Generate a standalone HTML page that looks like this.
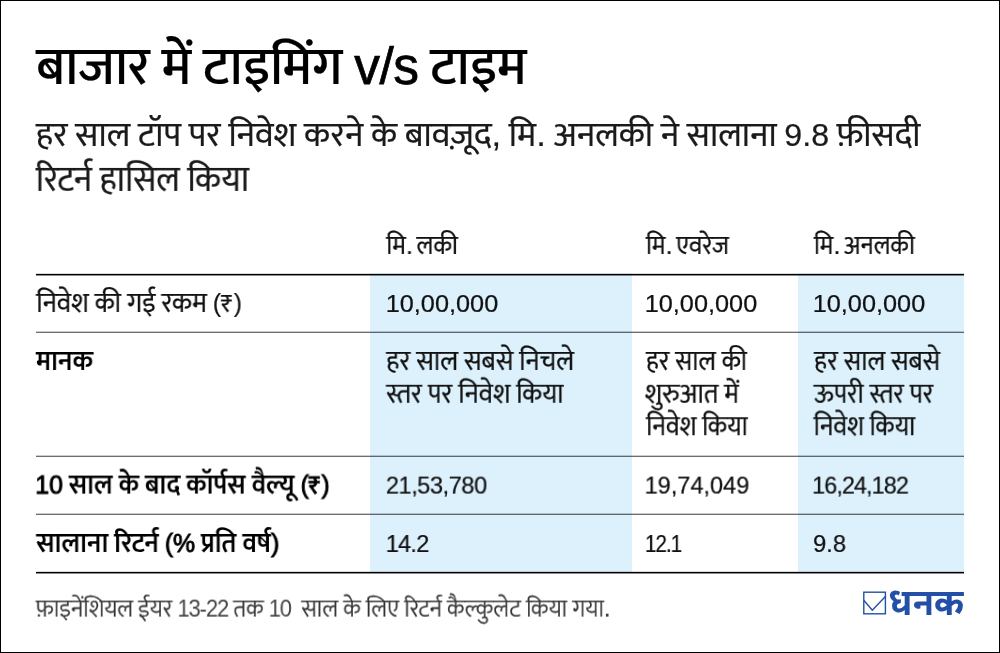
<!DOCTYPE html>
<html lang="hi"><head><meta charset="utf-8"><title>बाजार में टाइमिंग v/s टाइम</title>
<style>
html,body{margin:0;padding:0;background:#fff}
body{width:1000px;height:653px;overflow:hidden;position:relative;font-family:"Liberation Sans","Mukta","Ek Mukta","Noto Sans Devanagari",sans-serif}
#page{position:absolute;left:0;top:0;width:1000px;height:653px;overflow:hidden;background:#fff}
#bg{position:absolute;left:0;top:0;width:1000px;height:653px}
.t{position:absolute;left:0;top:0;white-space:nowrap;will-change:transform;line-height:1.5;word-spacing:-.056em;transform-origin:0 0;margin:0;padding:0;-webkit-text-stroke:.22px currentColor}
.n{font-family:"Liberation Sans","Mukta","Ek Mukta",sans-serif;font-size:.93em}
.vs{font-family:"Liberation Sans",sans-serif;font-size:.97em;letter-spacing:-.5px;-webkit-text-stroke:.75px #000}

.nm{font-weight:400;-webkit-text-stroke:.95px currentColor}
.nf{letter-spacing:-1.15px;-webkit-text-stroke:0;color:#444}
.num{font-family:"Liberation Sans",sans-serif}
</style></head><body>
<div id="page">
<svg id="bg" width="1000" height="653" viewBox="0 0 1000 653">
<rect x="370" y="273.5" width="262" height="299" fill="#ddf1fc"/>
<rect x="798" y="273.5" width="166" height="299" fill="#ddf1fc"/>
<rect x="36" y="273.85" width="928" height="1.6" fill="#000"/>
<rect x="36" y="331.8" width="928" height="0.77" fill="#000"/>
<rect x="36" y="455.8" width="928" height="0.77" fill="#000"/>
<rect x="36" y="513.8" width="928" height="0.77" fill="#000"/>
<rect x="36" y="571.85" width="928" height="1.6" fill="#000"/>
<g fill="none" stroke="#2350a6" stroke-width="1.4"><rect x="863.8" y="592.2" width="21.6" height="21.6"/><polyline points="863.8,600.3 872.3,610.3 885.4,596.6"/></g>
<rect x="0.5" y="0.5" width="999" height="652" fill="none" stroke="#000" stroke-width="1"/>
</svg>
<div class="t" id="title" style="font-size:53px;font-weight:500;color:#000;transform:translate(36.28px,25.80px) scaleX(1.0000)">बाजार में टाइमिंग <span class="vs">v/s</span> टाइम</div>
<div class="t" id="sub1" style="font-size:34px;font-weight:400;color:#1a1a1a;transform:translate(35.94px,109.00px) scaleX(1.0183)">हर साल टॉप पर निवेश करने के बावज़ूद, मि. अनलकी ने सालाना <span class="n">9.8</span> फ़ीसदी</div>
<div class="t" id="sub2" style="font-size:36.5px;font-weight:400;color:#1a1a1a;transform:translate(35.86px,151.90px) scaleX(0.9459)">रिटर्न हासिल किया</div>
<div class="t" id="h2" style="font-size:26.7px;font-weight:400;color:#111;transform:translate(386.31px,225.00px) scaleX(0.9281);word-spacing:-.13em">मि. लकी</div>
<div class="t" id="h3" style="font-size:26.7px;font-weight:400;color:#111;transform:translate(645.93px,225.00px) scaleX(0.9286);word-spacing:-.13em">मि. एवरेज</div>
<div class="t" id="h4" style="font-size:26.7px;font-weight:400;color:#111;transform:translate(813.91px,225.00px) scaleX(0.9232);word-spacing:-.13em">मि. अनलकी</div>
<div class="t" id="r1" style="font-size:28.4px;font-weight:400;color:#111;transform:translate(36.32px,281.00px) scaleX(0.9411)">निवेश की गई रकम <span class="n">(₹)</span></div>
<div class="t num" id="r1c2" style="font-size:24px;font-weight:400;color:#111;transform:translate(385.69px,286.00px) scaleX(1.0540)">10,00,000</div>
<div class="t num" id="r1c3" style="font-size:24px;font-weight:400;color:#111;transform:translate(644.69px,286.00px) scaleX(1.0540)">10,00,000</div>
<div class="t num" id="r1c4" style="font-size:24px;font-weight:400;color:#111;transform:translate(812.69px,286.00px) scaleX(1.0540)">10,00,000</div>
<div class="t" id="r2" style="font-size:28.4px;font-weight:600;color:#000;transform:translate(35.99px,339.00px) scaleX(0.9429);-webkit-text-stroke:0">मानक</div>
<div class="t" id="r2c2a" style="font-size:28.4px;font-weight:400;color:#111;transform:translate(386.33px,339.00px) scaleX(0.9278)">हर साल सबसे निचले</div>
<div class="t" id="r2c2b" style="font-size:28.4px;font-weight:400;color:#111;transform:translate(386.31px,371.80px) scaleX(0.9350)">स्तर पर निवेश किया</div>
<div class="t" id="r2c3a" style="font-size:28.4px;font-weight:400;color:#111;transform:translate(646.07px,339.00px) scaleX(0.9022)">हर साल की</div>
<div class="t" id="r2c3b" style="font-size:28.4px;font-weight:400;color:#111;transform:translate(644.89px,371.80px) scaleX(0.9329)">शुरुआत में</div>
<div class="t" id="r2c3c" style="font-size:28.4px;font-weight:400;color:#111;transform:translate(646.16px,404.20px) scaleX(0.9025)">निवेश किया</div>
<div class="t" id="r2c4a" style="font-size:28.4px;font-weight:400;color:#111;transform:translate(814.12px,339.00px) scaleX(0.9201)">हर साल सबसे</div>
<div class="t" id="r2c4b" style="font-size:28.4px;font-weight:400;color:#111;transform:translate(813.74px,371.80px) scaleX(0.9034)">ऊपरी स्तर पर</div>
<div class="t" id="r2c4c" style="font-size:28.4px;font-weight:400;color:#111;transform:translate(813.68px,404.20px) scaleX(0.9024)">निवेश किया</div>
<div class="t" id="r3" style="font-size:28.4px;font-weight:600;color:#000;transform:translate(35.27px,462.60px) scaleX(0.9389);-webkit-text-stroke:0"><span class="n nm">10</span> साल के बाद कॉर्पस वैल्यू <span class="n nm">(₹)</span></div>
<div class="t num" id="r3c2" style="font-size:24px;font-weight:400;color:#111;transform:translate(385.84px,467.60px) scaleX(0.9857);letter-spacing:-.5px">21,53,780</div>
<div class="t num" id="r3c3" style="font-size:24px;font-weight:400;color:#111;transform:translate(644.66px,467.60px) scaleX(0.9793)">19,74,049</div>
<div class="t num" id="r3c4" style="font-size:24px;font-weight:400;color:#111;transform:translate(812.08px,467.60px) scaleX(0.9720);letter-spacing:-.9px">16,24,182</div>
<div class="t" id="r4" style="font-size:28.4px;font-weight:600;color:#000;transform:translate(36.27px,521.00px) scaleX(0.9382);-webkit-text-stroke:0">सालाना रिटर्न <span class="n nm">(%</span> प्रति वर्ष<span class="n nm">)</span></div>
<div class="t num" id="r4c2" style="font-size:24px;font-weight:400;color:#111;transform:translate(385.72px,526.00px) scaleX(0.9835);letter-spacing:-.8px">14.2</div>
<div class="t num" id="r4c3" style="font-size:24px;font-weight:400;color:#111;transform:translate(644.97px,526.00px) scaleX(0.8565);letter-spacing:-1.1px">12.1</div>
<div class="t num" id="r4c4" style="font-size:24px;font-weight:400;color:#111;transform:translate(813.01px,526.00px) scaleX(0.9911)">9.8</div>
<div class="t" id="foot" style="font-size:25px;font-weight:300;color:#333;transform:translate(35.89px,589.60px) scaleX(0.9408)">फ़ाइनेंशियल ईयर <span class="n nf">13-22</span> तक <span class="n nf">10</span>&nbsp; साल के लिए रिटर्न कैल्कुलेट किया गया.</div>
<div class="t" id="logo" style="font-size:33.8px;font-weight:800;color:#2350a6;transform:translate(888.41px,578.05px) scaleX(1.0033);font-family:'Liberation Sans','Martel Sans','Mukta',sans-serif;-webkit-text-stroke:.1px currentColor">धनक</div>
</div>
</body></html>
